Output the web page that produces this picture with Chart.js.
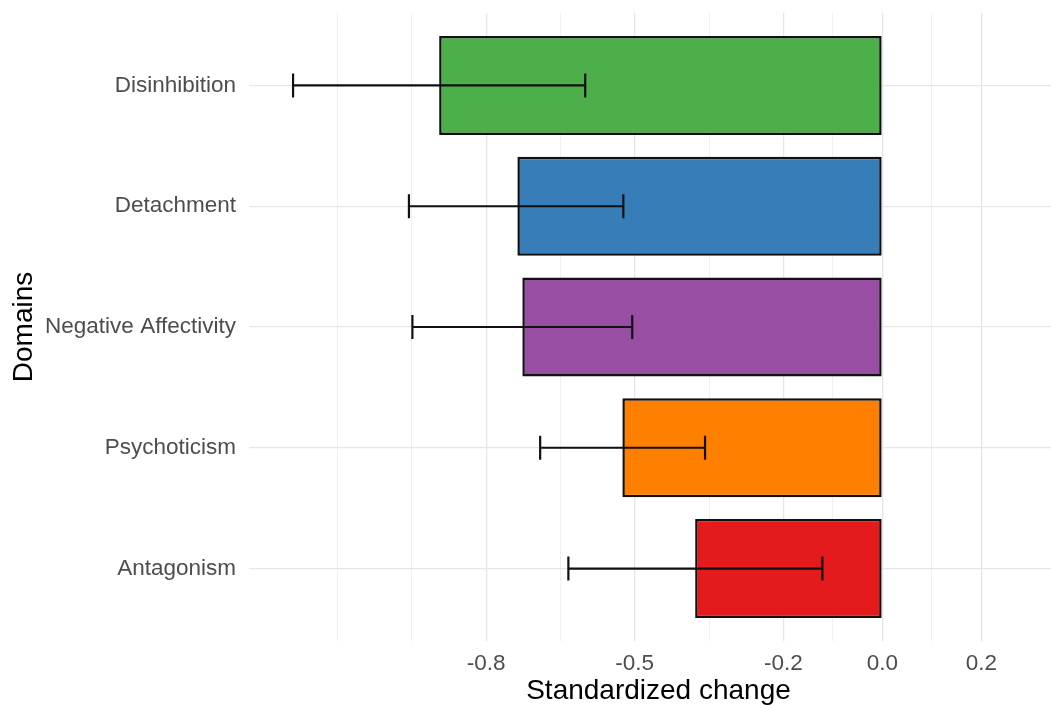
<!DOCTYPE html>
<html>
<head>
<meta charset="utf-8">
<script src="https://cdn.jsdelivr.net/npm/chart.js@4/dist/chart.umd.min.js"></script>
<style>
  html, body { margin: 0; padding: 0; background: #fff; overflow: hidden; }
  canvas { display: block; }
</style>
</head>
<body>
<!-- the panel runs a little past the right edge of the window, as in the original -->
<canvas id="chart" width="1068" height="705"></canvas>
<script>
// Domains, top to bottom
const categories = ["Disinhibition", "Detachment", "Negative Affectivity", "Psychoticism", "Antagonism"];
const estimates = [-0.895, -0.737, -0.727, -0.525, -0.378];
const ciLower = [-1.19, -0.956, -0.949, -0.691, -0.634];
const ciUpper = [-0.6, -0.523, -0.505, -0.358, -0.121];
const barColors = ["#4DAF4A", "#377EB8", "#984EA3", "#FF7F00", "#E41A1C"];

// x axis breaks
const xMajorTicks = [-0.8, -0.5, -0.2, 0.0, 0.2];
const xMinorTicks = [-1.1, -0.95, -0.65, -0.35, -0.1, 0.1];

const tickFont = { family: "'Liberation Sans', Arial, sans-serif", size: 22.5 };
const titleFont = { family: "'Liberation Sans', Arial, sans-serif", size: 28, lineHeight: 1 };

const isMajor = (v) => xMajorTicks.some((t) => Math.abs(t - v) < 1e-6);

// Error bars drawn through the chart scales
const errorBars = {
  id: "errorBars",
  afterDatasetsDraw(chart) {
    const { ctx, scales: { x, y } } = chart;
    ctx.save();
    ctx.strokeStyle = "#111";
    ctx.lineWidth = 2.2;
    categories.forEach((_, i) => {
      const x0 = x.getPixelForValue(ciLower[i]);
      const x1 = x.getPixelForValue(ciUpper[i]);
      const yc = y.getPixelForValue(i);
      const yt = y.getPixelForValue(i - 0.1);
      const yb = y.getPixelForValue(i + 0.1);
      ctx.beginPath();
      ctx.moveTo(x0, yc);
      ctx.lineTo(x1, yc);
      ctx.moveTo(x0, yt);
      ctx.lineTo(x0, yb);
      ctx.moveTo(x1, yt);
      ctx.lineTo(x1, yb);
      ctx.stroke();
    });
    ctx.restore();
  },
};

new Chart(document.getElementById("chart"), {
  type: "bar",
  data: {
    datasets: [{
      data: estimates.map((v, i) => ({ x: v, y: i })),
      backgroundColor: barColors,
      borderColor: "#111",
      borderWidth: 2.5,
      borderSkipped: false,
      barPercentage: 0.82,
      categoryPercentage: 1.0,
    }],
  },
  options: {
    indexAxis: "y",
    responsive: false,
    animation: false,
    layout: { padding: { top: 13, left: 0, right: 0, bottom: 0 } },
    plugins: { legend: { display: false }, tooltip: { enabled: false } },
    scales: {
      x: {
        type: "linear",
        min: -1.279,
        max: 0.375,
        border: { display: false },
        grid: {
          drawTicks: false,
          color: (c) => (isMajor(c.tick.value) ? "#e6e6e6" : "#f0f0f0"),
          lineWidth: (c) => (isMajor(c.tick.value) ? 1.3 : 1),
        },
        afterBuildTicks: (s) => {
          s.ticks = [...xMajorTicks, ...xMinorTicks].sort((a, b) => a - b).map((v) => ({ value: v }));
        },
        afterFit: (s) => {
          s.height = 64;
          s.paddingLeft = 0;
          s.paddingRight = 0;
        },
        ticks: {
          autoSkip: false,
          maxRotation: 0,
          padding: 9,
          color: "#4d4d4d",
          font: tickFont,
          callback: (v) => (isMajor(v) ? v.toFixed(1) : ""),
        },
        title: {
          display: true,
          text: "Standardized change",
          color: "#000",
          font: titleFont,
          padding: 0,
        },
      },
      y: {
        type: "linear",
        reverse: true,
        min: -0.6,
        max: categories.length - 0.4,
        offset: false,
        border: { display: false },
        grid: { offset: false, drawTicks: false, color: "#e6e6e6", lineWidth: 1.3 },
        afterBuildTicks: (s) => {
          s.ticks = categories.map((_, i) => ({ value: i }));
        },
        afterFit: (s) => {
          s.width = 249;
          s.paddingTop = 0;
          s.paddingBottom = 0;
        },
        ticks: {
          autoSkip: false,
          padding: 13,
          color: "#4d4d4d",
          font: tickFont,
          callback: (v) => categories[v] ?? "",
        },
        title: {
          display: true,
          text: "Domains",
          color: "#000",
          font: titleFont,
          padding: { top: 10, bottom: 0 },
        },
      },
    },
  },
  plugins: [errorBars],
});
</script>
</body>
</html>
